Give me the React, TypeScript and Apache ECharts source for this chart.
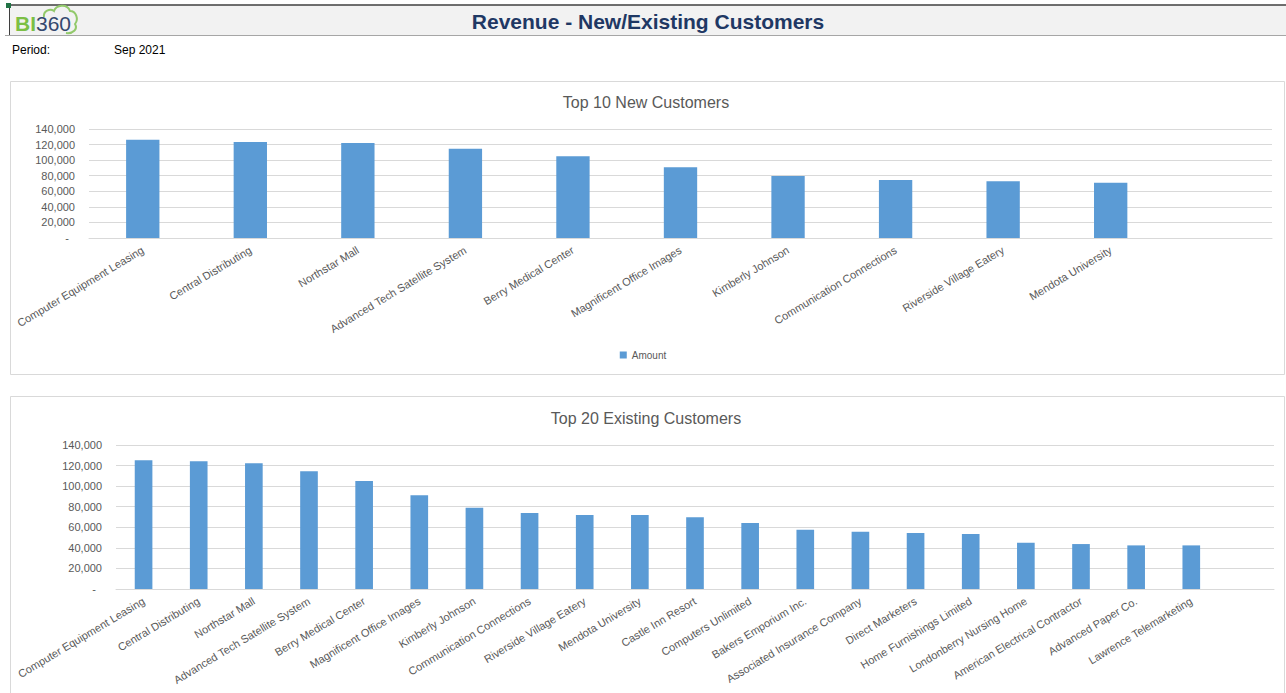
import React, { useEffect, useRef } from "react";
import * as echarts from "echarts";

const newCustomers = [
  "Computer Equipment Leasing",
  "Central Distributing",
  "Northstar Mall",
  "Advanced Tech Satellite System",
  "Berry Medical Center",
  "Magnificent Office Images",
  "Kimberly Johnson",
  "Communication Connections",
  "Riverside Village Eatery",
  "Mendota University",
];
const newAmounts = [126300, 123300, 122000, 114700, 104900, 90900, 79700, 74600, 72800, 71100];

const existingCustomers = [
  "Computer Equipment Leasing",
  "Central Distributing",
  "Northstar Mall",
  "Advanced Tech Satellite System",
  "Berry Medical Center",
  "Magnificent Office Images",
  "Kimberly Johnson",
  "Communication Connections",
  "Riverside Village Eatery",
  "Mendota University",
  "Castle Inn Resort",
  "Computers Unlimited",
  "Bakers Emporium Inc.",
  "Associated Insurance Company",
  "Direct Marketers",
  "Home Furnishings Limited",
  "Londonberry Nursing Home",
  "American Electrical Contractor",
  "Advanced Paper Co.",
  "Lawrence Telemarketing",
];
const existingAmounts = [
  125100, 124100, 122200, 114400, 105000, 91100, 79100, 73900, 71900, 71900,
  69700, 64200, 57700, 55700, 54400, 53500, 45000, 43700, 42400, 42400,
];

const yMin = 0;
const yMax = 140000;
const yInterval = 20000;

const FONT = "Liberation Sans, Arial, sans-serif";
const GRAY = "#595959";
const GRID = "#d9d9d9";
const BAR = "#5b9bd5";

const cloudPath =
  "M 44 17 C 43 11 50 8 54 11 C 56 5 67 3 70 11 C 76 11 79 19 75 24 C 78 29 73 34 66 33";
echarts.graphic.registerShape("logoCloud", echarts.graphic.extendPath(cloudPath, {}) as any);

function yFormatter(v: number) {
  if (v === 0) return "-  ";
  return v.toLocaleString("en-US");
}

function makeAxes(gridIndex: number, cats: string[]) {
  return {
    x: {
      gridIndex,
      type: "category",
      data: [...cats, ""],
      axisTick: { show: false },
      axisLine: { lineStyle: { color: GRID } },
      axisLabel: {
        rotate: 31,
        interval: 0,
        color: GRAY,
        fontSize: 11,
        fontFamily: FONT,
        margin: 11,
      },
    },
    y: {
      gridIndex,
      type: "value",
      min: yMin,
      max: yMax,
      interval: yInterval,
      axisLine: { show: false },
      axisTick: { show: false },
      axisLabel: { formatter: yFormatter, color: GRAY, fontSize: 11, fontFamily: FONT, margin: 14 },
      splitLine: { lineStyle: { color: GRID } },
    },
  };
}

export default function App() {
  const ref = useRef<HTMLDivElement>(null);
  useEffect(() => {
    if (!ref.current) return;
    const chart = echarts.init(ref.current, undefined, { renderer: "svg" });
    const a1 = makeAxes(0, newCustomers);
    const a2 = makeAxes(1, existingCustomers);
    chart.setOption({
      animation: false,
      backgroundColor: "#ffffff",
      grid: [
        { left: 89, top: 129, width: 1183, height: 109 },
        { left: 116, top: 445, width: 1158, height: 144 },
      ],
      xAxis: [a1.x, a2.x],
      yAxis: [a1.y, a2.y],
      legend: {
        data: ["Amount"],
        left: "center",
        top: 345,
        itemWidth: 7,
        itemHeight: 7,
        itemGap: 4,
        icon: "rect",
        textStyle: { color: GRAY, fontSize: 10, fontFamily: FONT },
      },
      series: [
        {
          name: "Amount",
          type: "bar",
          xAxisIndex: 0,
          yAxisIndex: 0,
          data: [...newAmounts, null],
          barWidth: "31%",
          itemStyle: { color: BAR },
        },
        {
          name: "Amount",
          type: "bar",
          xAxisIndex: 1,
          yAxisIndex: 1,
          data: [...existingAmounts, null],
          barWidth: "32%",
          itemStyle: { color: BAR },
        },
      ],
      graphic: [
        { type: "rect", z: -1, shape: { x: 9, y: 5, width: 1277, height: 30 }, style: { fill: "#f2f2f2" } },
        { type: "line", shape: { x1: 9, y1: 5, x2: 1286, y2: 5 }, style: { stroke: "#3f3f3f", lineWidth: 1.5 } },
        { type: "line", shape: { x1: 9.5, y1: 5, x2: 9.5, y2: 35 }, style: { stroke: "#3f3f3f", lineWidth: 1 } },
        { type: "line", shape: { x1: 5, y1: 35.5, x2: 1286, y2: 35.5 }, style: { stroke: "#a6a6a6", lineWidth: 1 } },
        { type: "rect", shape: { x: 6, y: 3, width: 5, height: 5 }, style: { fill: "#217346" } },
        {
          type: "logoCloud",
          x: 0,
          y: 0,
          scaleX: 1,
          scaleY: 1,
          style: { fill: "none", stroke: "#92c96b", lineWidth: 2 },
        },
        {
          type: "text",
          x: 15,
          y: 23,
          style: {
            text: "{a|BI}{b|360}",
            textVerticalAlign: "middle",
            rich: {
              a: { fontSize: 21, fontFamily: FONT, fill: "#7cbf45", fontWeight: "bold" },
              b: { fontSize: 21, fontFamily: FONT, fill: "#34486e" },
            },
          },
        },
        {
          type: "text",
          x: 648,
          y: 21,
          style: {
            text: "Revenue - New/Existing Customers",
            fontSize: 21,
            fontWeight: "bold",
            fontFamily: FONT,
            fill: "#1f3864",
            textAlign: "center",
            textVerticalAlign: "middle",
          },
        },
        {
          type: "text",
          x: 12,
          y: 50,
          style: { text: "Period:", fontSize: 12, fontFamily: FONT, fill: "#000", textVerticalAlign: "middle" },
        },
        {
          type: "text",
          x: 114,
          y: 50,
          style: { text: "Sep 2021", fontSize: 12, fontFamily: FONT, fill: "#000", textVerticalAlign: "middle" },
        },
        {
          type: "rect",
          z: -1,
          shape: { x: 10.5, y: 81.5, width: 1274, height: 293 },
          style: { fill: "none", stroke: GRID, lineWidth: 1 },
        },
        {
          type: "rect",
          z: -1,
          shape: { x: 10.5, y: 396.5, width: 1274, height: 310 },
          style: { fill: "none", stroke: GRID, lineWidth: 1 },
        },
        {
          type: "text",
          x: 646,
          y: 102,
          style: {
            text: "Top 10 New Customers",
            fontSize: 16,
            fontFamily: FONT,
            fill: GRAY,
            textAlign: "center",
            textVerticalAlign: "middle",
          },
        },
        {
          type: "text",
          x: 646,
          y: 418,
          style: {
            text: "Top 20 Existing Customers",
            fontSize: 16,
            fontFamily: FONT,
            fill: GRAY,
            textAlign: "center",
            textVerticalAlign: "middle",
          },
        },
      ],
    });
    return () => chart.dispose();
  }, []);
  return (
    <div
      ref={ref}
      style={{ position: "fixed", left: 0, top: 0, width: 1286, height: 693 }}
    />
  );
}
